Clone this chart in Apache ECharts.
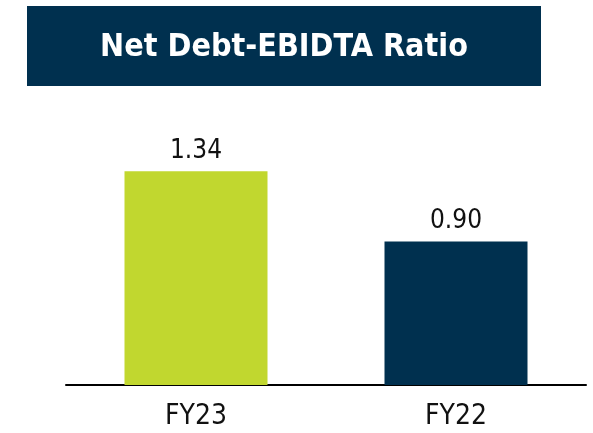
<!DOCTYPE html>
<html>
<head>
<meta charset="utf-8">
<script src="https://cdn.jsdelivr.net/npm/echarts@6/dist/echarts.min.js"></script>
<style>
  html, body { margin: 0; padding: 0; background: #fff; }
  #chart { width: 593px; height: 433px; }
</style>
</head>
<body>
<div id="chart"></div>
<script>
  var titleText = 'Net Debt-EBIDTA Ratio';
  var categories = ['FY23', 'FY22'];
  var ratios = [1.34, 0.90];
  var barColors = ['#c1d72f', '#00304f'];

  var font = '"Liberation Sans Narrow", "DejaVu Sans Condensed", sans-serif';
  var chart = echarts.init(document.getElementById('chart'));

  chart.setOption({
    animation: false,
    grid: { left: 66, right: 7, top: 66, bottom: 48 },
    graphic: [
      {
        type: 'rect',
        shape: { x: 27, y: 6, width: 514, height: 80 },
        style: { fill: '#00304f' }
      },
      {
        type: 'text',
        x: 284, y: 48,
        style: {
          text: titleText,
          fill: '#fff',
          font: 'bold 32px ' + font,
          textAlign: 'center',
          textVerticalAlign: 'middle'
        }
      }
    ],
    xAxis: {
      type: 'category',
      data: categories,
      axisTick: { show: false },
      axisLine: { lineStyle: { color: '#000', width: 2 } },
      axisLabel: { color: '#111', fontSize: 28, fontFamily: font, margin: 18 }
    },
    yAxis: {
      type: 'value',
      min: 0, max: 2,
      show: false,
      splitLine: { show: false }
    },
    series: [{
      type: 'bar',
      barWidth: '55%',
      data: ratios.map(function (v, i) {
        return { value: v, itemStyle: { color: barColors[i] } };
      }),
      label: {
        show: true,
        position: 'top',
        distance: 7,
        color: '#111',
        fontSize: 26,
        fontFamily: font,
        formatter: function (p) { return p.value.toFixed(2); }
      }
    }]
  });
</script>
</body>
</html>
